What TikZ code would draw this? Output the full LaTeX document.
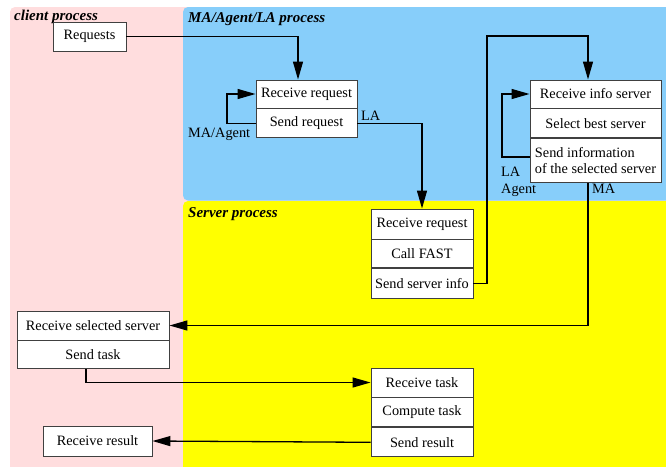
\documentclass[tikz,border=0pt]{standalone}
\usepackage{fontspec}
\setmainfont{Liberation Serif}
\usetikzlibrary{arrows.meta}
\definecolor{clientpink}{HTML}{FFDDDE}
\definecolor{agentblue}{HTML}{87CEFA}
\definecolor{serveryellow}{HTML}{FFFF00}
\tikzset{
  region/.style={draw=none, rounded corners=5pt},
  title/.style={anchor=base west, inner sep=0pt, font=\fontsize{15}{17}\selectfont\bfseries\itshape},
  cell/.style={draw=black!75, line width=0.9pt, fill=white, inner sep=0pt, font=\fontsize{14.3}{16}\selectfont, align=center},
  lbl/.style={inner sep=0pt, font=\fontsize{14.3}{16}\selectfont},
  conn/.style={line width=1.3pt, -{Triangle[length=18pt,width=10pt]}},
}
\begin{document}
\begin{tikzpicture}[x=1pt,y=-1pt]
\useasboundingbox (0,0) rectangle (666,466);
% regions
\fill[region, fill=clientpink] (10,7) rectangle (680,480);
\fill[region, fill=agentblue] (183,7) rectangle (680,200.5);
\fill[region, fill=serveryellow] (183,201) rectangle (680,480);
\node[title] (tclient) at (14,20) {client process};
\node[title] (tagent) at (188,22) {MA/Agent/LA process};
\node[title] (tserver) at (188,217) {Server process};

% client boxes
\node[cell, minimum width=73pt, minimum height=29pt] (req) at (89.5,36.5) {Requests};
\node[cell, minimum width=152pt, minimum height=29pt] (recsel) at (93,325.5) {Receive selected server};
\node[cell, minimum width=152pt, minimum height=28pt, anchor=north] (sendtask) at (recsel.south) {Send task};
\node[cell, minimum width=109pt, minimum height=30pt] (recres) at (97.5,441) {Receive result};

% agent boxes
\node[cell, minimum width=101pt, minimum height=28pt] (recreq) at (306.5,94) {Receive request};
\node[cell, minimum width=101pt, minimum height=29pt, anchor=north] (sendreq) at (recreq.south) {Send request};

\node[cell, minimum width=131pt, minimum height=28pt] (recinfo) at (595.5,94) {Receive info server};
\node[cell, minimum width=131pt, minimum height=29pt, anchor=north] (selbest) at (recinfo.south) {Select best server};
\node[cell, minimum width=131pt, minimum height=44pt, anchor=north, align=left] (sendinfo) at (selbest.south) {Send information\\of the selected server};

% server boxes
\node[cell, minimum width=102pt, minimum height=30pt] (srvrec) at (422,224) {Receive request};
\node[cell, minimum width=102pt, minimum height=28pt, anchor=north] (callfast) at (srvrec.south) {Call FAST};
\node[cell, minimum width=102pt, minimum height=30pt, anchor=north] (sendsrv) at (callfast.south) {Send server info};

\node[cell, minimum width=102pt, minimum height=29pt] (rectask) at (422,382.5) {Receive task};
\node[cell, minimum width=102pt, minimum height=29pt, anchor=north] (comptask) at (rectask.south) {Compute task};
\node[cell, minimum width=102pt, minimum height=29pt, anchor=north] (sendres) at (comptask.south) {Send result};

% connector waypoints
\coordinate (loopA) at (227,0);
\coordinate (loopB) at (502,0);

% connectors
\draw[conn] (req.east) -| (recreq.north -| 298,0);
\draw[conn] (sendreq.west) -| (loopA |- recreq.west) -- (recreq.west);
\draw[conn] (sendreq.east) -| (srvrec.north);
\draw[conn] (sendsrv.east) -| (487,36) -| (recinfo.north -| 588,0);
\draw[conn] (sendinfo.west |- 0,157) -| (loopB |- recinfo.west) -- (recinfo.west);
\draw[conn] (sendinfo.south -| 588,0) |- (recsel.east);
\draw[conn] (sendtask.south -| 86,0) |- (rectask.west);
\draw[conn] (sendres.west) -- (recres.east);

% labels
\node[lbl, anchor=base west] (lblma) at (188,137) {MA/Agent};
\node[lbl, anchor=base west] (lblla1) at (361,120) {LA};
\node[lbl, anchor=base west] (lblla2) at (501,176) {LA};
\node[lbl, anchor=base west] (lblag) at (501,193) {Agent};
\node[lbl, anchor=base west] (lblma2) at (592,193) {MA};
\end{tikzpicture}
\end{document}
